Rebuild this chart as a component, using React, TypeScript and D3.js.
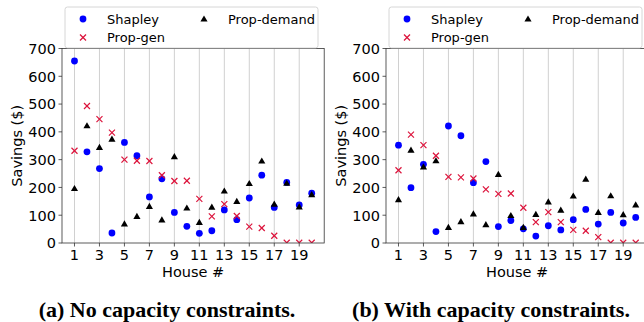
import * as d3 from 'd3';

// House numbers on the x axis
const houses = [1, 2, 3, 4, 5, 6, 7, 8, 9, 10, 11, 12, 13, 14, 15, 16, 17, 18, 19, 20];
const xTickLabels = [1, 3, 5, 7, 9, 11, 13, 15, 17, 19];
const yTickLabels = [0, 100, 200, 300, 400, 500, 600, 700];

// (a) no capacity constraints
const shapleyA = [655, 328, 268, 36, 362, 314, 166, 231, 110, 60, 35, 44, 119, 84, 162, 244, 128, 218, 137, 179];
const propGenA = [332, 493, 446, 397, 300, 296, 295, 244, 223, 224, 159, 96, 140, 97, 59, 54, 26, 1, 1, 1];
const propDemandA = [196, 422, 344, 374, 69, 96, 132, 83, 311, 126, 74, 129, 187, 150, 214, 295, 140, 215, 130, 174];

// (b) with capacity constraints
const shapleyB = [352, 199, 283, 41, 421, 386, 217, 293, 59, 81, 51, 25, 62, 47, 84, 121, 68, 110, 72, 92];
const propGenB = [262, 390, 352, 314, 238, 236, 232, 193, 177, 178, 127, 75, 111, 75, 47, 44, 21, 1, 1, 1];
const propDemandB = [156, 334, 274, 296, 56, 77, 105, 66, 247, 99, 56, 103, 148, 118, 169, 230, 110, 170, 102, 137];

const SANS = '"DejaVu Sans", sans-serif';
const BLUE = '#0000ff';
const CRIMSON = '#dc143c';

type PanelProps = {
    id: string;
    left: number;
    shapley: number[];
    propGen: number[];
    propDemand: number[];
    title: string;
    titleX: number;
};

function Panel({ id, left, shapley, propGen, propDemand, title, titleX }: PanelProps) {
    const top = 48.5;
    const bottom = 243;
    const x = d3.scaleLinear().domain([0, 21]).range([left, left + 262.2]);
    const y = d3.scaleLinear().domain([0, 700]).range([bottom, top]);
    const right = x(21);
    const tri = d3.symbol(d3.symbolTriangle, 22)() || '';

    const lx = left + 3;
    const ly = 7;

    return (
        <g>
            <defs>
                <clipPath id={`clip-${id}`}>
                    <rect x={left} y={top} width={right - left} height={bottom - top} />
                </clipPath>
            </defs>

            {/* vertical grid at the odd ticks */}
            {xTickLabels.map((t) => (
                <line key={t} x1={x(t)} x2={x(t)} y1={top} y2={bottom} stroke="#d0d0d0" strokeWidth={1} />
            ))}

            <g clipPath={`url(#clip-${id})`}>
                {houses.map((h, i) => (
                    <circle key={`s${h}`} cx={x(h)} cy={y(shapley[i])} r={3.4} fill={BLUE} />
                ))}
                {houses.map((h, i) => (
                    <g key={`g${h}`} transform={`translate(${x(h)},${y(propGen[i])})`} stroke={CRIMSON} strokeWidth={1.2}>
                        <line x1={-3} y1={-3} x2={3} y2={3} />
                        <line x1={-3} y1={3} x2={3} y2={-3} />
                    </g>
                ))}
                {houses.map((h, i) => (
                    <path key={`d${h}`} d={tri} transform={`translate(${x(h)},${y(propDemand[i]) + 0.5})`} fill="#000" />
                ))}
            </g>

            {/* spines */}
            <rect x={left} y={top} width={right - left} height={bottom - top} fill="none" stroke="#333" strokeWidth={0.8} />

            {/* x axis */}
            {xTickLabels.map((t) => (
                <g key={t}>
                    <line x1={x(t)} x2={x(t)} y1={bottom} y2={bottom + 3.5} stroke="#333" strokeWidth={0.8} />
                    <text x={x(t)} y={bottom + 17} textAnchor="middle" fontFamily={SANS} fontSize={14.5} fill="#000">
                        {t}
                    </text>
                </g>
            ))}
            <text x={(left + right) / 2} y={276.5} textAnchor="middle" fontFamily={SANS} fontSize={14.5} fill="#000">
                House #
            </text>

            {/* y axis */}
            {yTickLabels.map((t) => (
                <g key={t}>
                    <line x1={left - 3.5} x2={left} y1={y(t)} y2={y(t)} stroke="#333" strokeWidth={0.8} />
                    <text x={left - 6} y={y(t) + 5.3} textAnchor="end" fontFamily={SANS} fontSize={14.5} fill="#000">
                        {t}
                    </text>
                </g>
            ))}
            <text
                transform={`translate(${left - 40},${(top + bottom) / 2}) rotate(-90)`}
                textAnchor="middle"
                fontFamily={SANS}
                fontSize={14.5}
                fill="#000"
            >
                Savings ($)
            </text>

            {/* legend */}
            <rect x={lx} y={ly} width={253} height={41} rx={2.5} fill="#fff" fillOpacity={0.8} stroke="#cccccc" strokeWidth={0.8} />
            <circle cx={lx + 18} cy={ly + 12} r={3.4} fill={BLUE} />
            <text x={lx + 42} y={ly + 16.5} fontFamily={SANS} fontSize={13} fill="#000">
                Shapley
            </text>
            <g transform={`translate(${lx + 18},${ly + 30.5})`} stroke={CRIMSON} strokeWidth={1.2}>
                <line x1={-3} y1={-3} x2={3} y2={3} />
                <line x1={-3} y1={3} x2={3} y2={-3} />
            </g>
            <text x={lx + 42} y={ly + 35} fontFamily={SANS} fontSize={13} fill="#000">
                Prop-gen
            </text>
            <path d={tri} transform={`translate(${lx + 139},${ly + 12.5})`} fill="#000" />
            <text x={lx + 163} y={ly + 16.5} fontFamily={SANS} fontSize={13} fill="#000">
                Prop-demand
            </text>

            {/* caption */}
            <text x={titleX} y={317} textAnchor="middle" fontFamily='"Liberation Serif", serif' fontWeight="bold" fontSize={22} fill="#000">
                {title}
            </text>
        </g>
    );
}

export default function App() {
    return (
        <div style={{ position: 'absolute', left: 0, top: 0 }}>
            <svg width={644} height={322} style={{ display: 'block', background: '#fff' }}>
                <Panel
                    id="a"
                    left={62}
                    shapley={shapleyA}
                    propGen={propGenA}
                    propDemand={propDemandA}
                    title="(a) No capacity constraints."
                    titleX={167}
                />
                <Panel
                    id="b"
                    left={386}
                    shapley={shapleyB}
                    propGen={propGenB}
                    propDemand={propDemandB}
                    title="(b) With capacity constraints."
                    titleX={491}
                />
            </svg>
        </div>
    );
}
